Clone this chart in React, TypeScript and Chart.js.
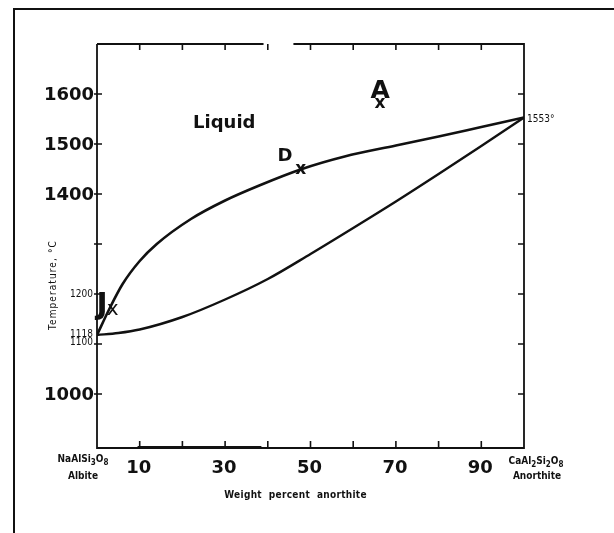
import React, { useEffect, useRef } from "react";
import { Chart, registerables } from "chart.js";

Chart.register(...registerables);

// Liquidus curve (weight % anorthite, °C)
const liquidusX = [0, 3, 6, 10, 14, 22, 30, 38, 48, 58, 70, 80, 90, 100];
const liquidusT = [1118, 1172, 1220, 1266, 1300, 1350, 1387, 1417, 1450, 1475, 1497, 1515, 1534, 1553];

// Solidus curve
const solidusX = [0, 5, 10, 20, 30, 40, 50, 60, 70, 80, 90, 100];
const solidusT = [1118, 1122, 1129, 1154, 1189, 1230, 1280, 1332, 1385, 1440, 1496, 1553];

// Axis ticks and labels
const xTickValues = [10, 20, 30, 40, 50, 60, 70, 80, 90];
const xTickLabels = [10, 30, 50, 70, 90];
const yTickValues = [1000, 1100, 1200, 1300, 1400, 1500, 1600];
const yBigLabels = [1600, 1500, 1400, 1000];

const BIG = "bold 18px 'DejaVu Sans', Verdana, sans-serif";
const SMALL = "10px 'DejaVu Sans Condensed', 'Liberation Sans Narrow', sans-serif";
const SMALLB = "bold 10px 'DejaVu Sans Condensed', 'Liberation Sans Narrow', sans-serif";

type Seg = [string, boolean];

function drawRich(ctx: CanvasRenderingContext2D, segs: Seg[], cx: number, baseline: number, font: string, subFont: string) {
  let total = 0;
  for (const [t, sub] of segs) {
    ctx.font = sub ? subFont : font;
    total += ctx.measureText(t).width;
  }
  let x = cx - total / 2;
  ctx.textAlign = "left";
  ctx.textBaseline = "alphabetic";
  for (const [t, sub] of segs) {
    ctx.font = sub ? subFont : font;
    ctx.fillText(t, x, sub ? baseline + 3 : baseline);
    x += ctx.measureText(t).width;
  }
}

const overlay = {
  id: "phaseOverlay",
  afterDatasetsDraw(chart: any) {
    const ctx: CanvasRenderingContext2D = chart.ctx;
    const xs = chart.scales.x;
    const ys = chart.scales.y;
    const { left, right, top, bottom } = chart.chartArea;
    const px = (v: number) => xs.getPixelForValue(v);
    const py = (v: number) => ys.getPixelForValue(v);

    ctx.save();
    ctx.strokeStyle = "#111";
    ctx.fillStyle = "#111";

    // outer frame (left and top edges visible)
    ctx.lineWidth = 2;
    ctx.beginPath();
    ctx.moveTo(14, 540);
    ctx.lineTo(14, 9);
    ctx.lineTo(620, 9);
    ctx.stroke();

    // plot frame
    ctx.lineWidth = 1.8;
    ctx.beginPath();
    ctx.moveTo(left, top);
    ctx.lineTo(left, bottom);
    ctx.lineTo(right, bottom);
    ctx.lineTo(right, top);
    ctx.lineTo(px(46), top);
    ctx.moveTo(px(39), top);
    ctx.lineTo(left, top);
    ctx.stroke();
    // thicker part of the bottom axis
    ctx.lineWidth = 3;
    ctx.beginPath();
    ctx.moveTo(px(9.5), bottom - 0.5);
    ctx.lineTo(px(38.5), bottom - 0.5);
    ctx.stroke();

    // inward ticks
    ctx.lineWidth = 1.6;
    ctx.beginPath();
    for (const v of xTickValues) {
      const x = px(v);
      ctx.moveTo(x, bottom);
      ctx.lineTo(x, bottom - 7);
      ctx.moveTo(x, top);
      ctx.lineTo(x, top + 6);
    }
    for (const v of yTickValues) {
      const y = py(v);
      ctx.moveTo(right, y);
      ctx.lineTo(right - 6, y);
      ctx.moveTo(left - 3, y);
      ctx.lineTo(left + 5, y);
    }
    ctx.stroke();

    // big y labels
    ctx.font = BIG;
    ctx.textAlign = "right";
    ctx.textBaseline = "middle";
    for (const v of yBigLabels) {
      ctx.fillText(String(v), left - 3, py(v) + 1);
    }

    // small y labels
    ctx.font = SMALL;
    ctx.textAlign = "right";
    ctx.textBaseline = "alphabetic";
    ctx.fillText("1200", left - 4, py(1200) + 3);
    ctx.fillText("1118", left - 4, py(1118) + 2);
    ctx.fillText("1100", left - 4, py(1100) + 1);
    ctx.textAlign = "left";
    ctx.fillText("1553°", right + 3, py(1553) + 4);

    // y axis title
    ctx.save();
    ctx.translate(left - 44, py(1218));
    ctx.rotate(-Math.PI / 2);
    ctx.font = SMALL;
    (ctx as any).letterSpacing = "1.1px";
    ctx.textAlign = "center";
    ctx.textBaseline = "middle";
    ctx.fillText("Temperature, °C", 0, 0);
    ctx.restore();

    // x labels
    ctx.font = BIG;
    ctx.textAlign = "center";
    ctx.textBaseline = "alphabetic";
    for (const v of xTickLabels) {
      ctx.fillText(String(v), px(v) - 1, bottom + 25);
    }

    // end-member labels
    const subF = "bold 8px 'DejaVu Sans Condensed', 'Liberation Sans Narrow', sans-serif";
    drawRich(ctx, [["NaAlSi", false], ["3", true], ["O", false], ["8", true]], left - 14, bottom + 14, SMALLB, subF);
    ctx.font = SMALLB;
    ctx.textAlign = "center";
    ctx.fillText("Albite", left - 14, bottom + 31);
    drawRich(ctx, [["CaAl", false], ["2", true], ["Si", false], ["2", true], ["O", false], ["8", true]], right + 12, bottom + 16, SMALLB, subF);
    ctx.font = SMALLB;
    ctx.textAlign = "center";
    ctx.fillText("Anorthite", right + 13, bottom + 31);

    ctx.save();
    (ctx as any).letterSpacing = "0.3px";
    ctx.font = SMALLB;
    ctx.textAlign = "center";
    ctx.fillText("Weight  percent  anorthite", px(46.5), bottom + 50);
    ctx.restore();

    // annotations
    ctx.font = BIG;
    ctx.textAlign = "left";
    ctx.textBaseline = "alphabetic";
    ctx.fillText("Liquid", px(22.5), py(1532));

    ctx.fillText("D", px(42.3), py(1466));
    ctx.font = "bold 17px 'DejaVu Sans', sans-serif";
    ctx.fillText("x", px(46.4), py(1440));

    ctx.font = "bold 25px 'DejaVu Sans', sans-serif";
    ctx.textAlign = "center";
    ctx.fillText("A", px(66.3), py(1592));
    ctx.font = "bold 17px 'DejaVu Sans', sans-serif";
    ctx.fillText("x", px(66.3), py(1572));

    ctx.font = "bold 30px 'DejaVu Sans', sans-serif";
    ctx.textAlign = "left";
    ctx.fillText("J", px(-0.1), py(1160));
    ctx.font = "20px 'DejaVu Sans', sans-serif";
    ctx.fillText("x", px(2.3), py(1158));

    ctx.restore();
  },
};

export default function App() {
  const ref = useRef<HTMLCanvasElement | null>(null);

  useEffect(() => {
    if (!ref.current) return;
    const chart = new Chart(ref.current, {
      type: "line",
      data: {
        datasets: [
          {
            label: "Liquidus",
            data: liquidusX.map((x, i) => ({ x, y: liquidusT[i] })),
            borderColor: "#111",
            borderWidth: 2.6,
            pointRadius: 0,
            cubicInterpolationMode: "monotone",
            fill: false,
          },
          {
            label: "Solidus",
            data: solidusX.map((x, i) => ({ x, y: solidusT[i] })),
            borderColor: "#111",
            borderWidth: 2.4,
            pointRadius: 0,
            cubicInterpolationMode: "monotone",
            fill: false,
          },
        ],
      },
      options: {
        responsive: false,
        animation: false,
        layout: { padding: { left: 97, right: 90, top: 44, bottom: 85 } },
        plugins: { legend: { display: false }, tooltip: { enabled: false } },
        scales: {
          x: { type: "linear", min: 0, max: 100, display: false },
          y: { type: "linear", min: 892, max: 1700, display: false },
        },
      },
      plugins: [overlay],
    });
    return () => chart.destroy();
  }, []);

  return (
    <div style={{ position: "fixed", left: 0, top: 0, width: 614, height: 533, background: "#fff" }}>
      <canvas ref={ref} width={614} height={533} style={{ display: "block" }} />
    </div>
  );
}
